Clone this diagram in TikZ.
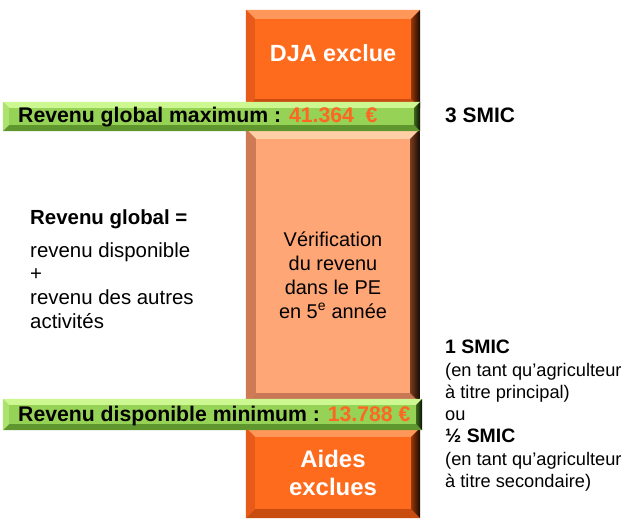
\documentclass[tikz,border=0pt]{standalone}
\usepackage{fontspec}
\setmainfont{Liberation Sans}
\usetikzlibrary{positioning}
\definecolor{djaorange}{RGB}{255,107,28}
\definecolor{djatop}{RGB}{255,150,90}
\definecolor{djabottom}{RGB}{200,75,15}
\definecolor{djaleft}{RGB}{232,90,25}
\definecolor{djaright}{RGB}{150,55,10}
\definecolor{verifsalmon}{RGB}{255,166,118}
\definecolor{veriftop}{RGB}{255,208,168}
\definecolor{verifbottom}{RGB}{200,120,85}
\definecolor{verifleft}{RGB}{205,122,85}
\definecolor{verifright}{RGB}{120,60,30}
\definecolor{bargreen}{RGB}{150,210,85}
\definecolor{bartop}{RGB}{205,248,145}
\definecolor{barbottom}{RGB}{95,150,45}
\definecolor{barleft}{RGB}{172,226,110}
\definecolor{barright}{RGB}{60,100,25}
\definecolor{numorange}{RGB}{255,102,34}
% #1 node, #2 depth, #3 top, #4 right, #5 bottom, #6 left
\newcommand{\bevel}[6]{%
  \fill[#3] (#1.north west) -- (#1.north east) -- ([xshift=-#2,yshift=-#2]#1.north east) -- ([xshift=#2,yshift=-#2]#1.north west) -- cycle;
  \fill[#5] (#1.south west) -- (#1.south east) -- ([xshift=-#2,yshift=#2]#1.south east) -- ([xshift=#2,yshift=#2]#1.south west) -- cycle;
  \fill[#6] (#1.north west) -- ([xshift=#2,yshift=-#2]#1.north west) -- ([xshift=#2,yshift=#2]#1.south west) -- (#1.south west) -- cycle;
  \shade[left color=#4,right color=black!85!#4] (#1.north east) -- ([xshift=-#2,yshift=-#2]#1.north east) -- ([xshift=-#2,yshift=#2]#1.south east) -- (#1.south east) -- cycle;
}

\begin{document}
\begin{tikzpicture}[x=1bp,y=-1bp,
    box/.style={rectangle,inner sep=0pt,draw=none,minimum width=174bp},
    bar/.style={rectangle,inner sep=0pt,draw=none,fill=bargreen},
    boxlabel/.style={font=\bfseries\fontsize{24}{28}\selectfont,text=white,anchor=base,inner sep=0pt},
    barlabel/.style={font=\bfseries\fontsize{21.3}{25}\selectfont,anchor=base west,inner sep=0pt},
    midlabel/.style={font=\fontsize{20}{24}\selectfont,anchor=base,inner sep=0pt},
    leftlabel/.style={font=\fontsize{20.5}{24}\selectfont,anchor=base west,inner sep=0pt},
    rightlabel/.style={font=\fontsize{18.3}{22}\selectfont,anchor=base west,inner sep=0pt}]
  \useasboundingbox (0,0) rectangle (630,520);

  % central column
  \node[box,fill=djaorange,minimum height=98bp] (dja) at (333,59) {};
  \bevel{dja}{9bp}{djatop}{djaright}{djabottom}{djaleft}
  \node[box,fill=verifsalmon,minimum height=274bp] (verif) at (333,266) {};
  \bevel{verif}{10bp}{veriftop}{verifright}{verifbottom}{verifleft}
  \node[box,fill=djaorange,minimum height=90bp] (aides) at (333,473) {};
  \bevel{aides}{9bp}{djatop}{djaright}{djabottom}{djaleft}

  % green bars
  \node[bar,minimum width=417bp,minimum height=29bp] (maxbar) at (211.5,116.5) {};
  \bevel{maxbar}{6bp}{bartop}{barright}{barbottom}{barleft}
  \node[bar,minimum width=419bp,minimum height=31bp] (minbar) at (212.5,414.5) {};
  \bevel{minbar}{6bp}{bartop}{barright}{barbottom}{barleft}

  % texts in the column
  \node[boxlabel,font=\bfseries\fontsize{23.5}{28}\selectfont] (djatxt) at (333,62) {DJA exclue};
  \node[midlabel] (verif1) at (333,247) {Vérification};
  \node[midlabel] (verif2) at (333,270.5) {du revenu};
  \node[midlabel] (verif3) at (333,294) {dans le PE};
  \node[midlabel] (verif4) at (333,318) {en 5\textsuperscript{e} année};
  \node[boxlabel] (aides1) at (333,467) {Aides};
  \node[boxlabel] (aides2) at (333,495) {exclues};

  % texts in the bars
  \node[barlabel] (maxtxt) at (18,123) {Revenu global maximum : \textcolor{numorange}{41.364\ \ €}};
  \node[barlabel] (mintxt) at (18,421) {Revenu disponible minimum : \textcolor{numorange}{13.788 €}};

  % left block
  \node[leftlabel,font=\bfseries\fontsize{20.5}{24}\selectfont] (glob1) at (30,225) {Revenu global =};
  \node[leftlabel] (glob2) at (30,257) {revenu disponible};
  \node[leftlabel] (glob3) at (30,280.5) {+};
  \node[leftlabel] (glob4) at (30,304.5) {revenu des autres};
  \node[leftlabel] (glob5) at (30,328) {activités};

  % right block
  \node[rightlabel,font=\bfseries\fontsize{21}{25}\selectfont] (smic3) at (445,123) {3 SMIC};
  \node[rightlabel,font=\bfseries\fontsize{19.5}{22}\selectfont] (smic1) at (445,353) {1 SMIC};
  \node[rightlabel] (smic1a) at (445,376) {(en tant qu’agriculteur};
  \node[rightlabel] (smic1b) at (445,398) {à titre principal)};
  \node[rightlabel] (ou) at (445,420) {ou};
  \node[rightlabel,font=\bfseries\fontsize{19.5}{22}\selectfont] (smic2) at (445,442) {½ SMIC};
  \node[rightlabel] (smic2a) at (445,465) {(en tant qu’agriculteur};
  \node[rightlabel] (smic2b) at (445,487) {à titre secondaire)};
\end{tikzpicture}
\end{document}
